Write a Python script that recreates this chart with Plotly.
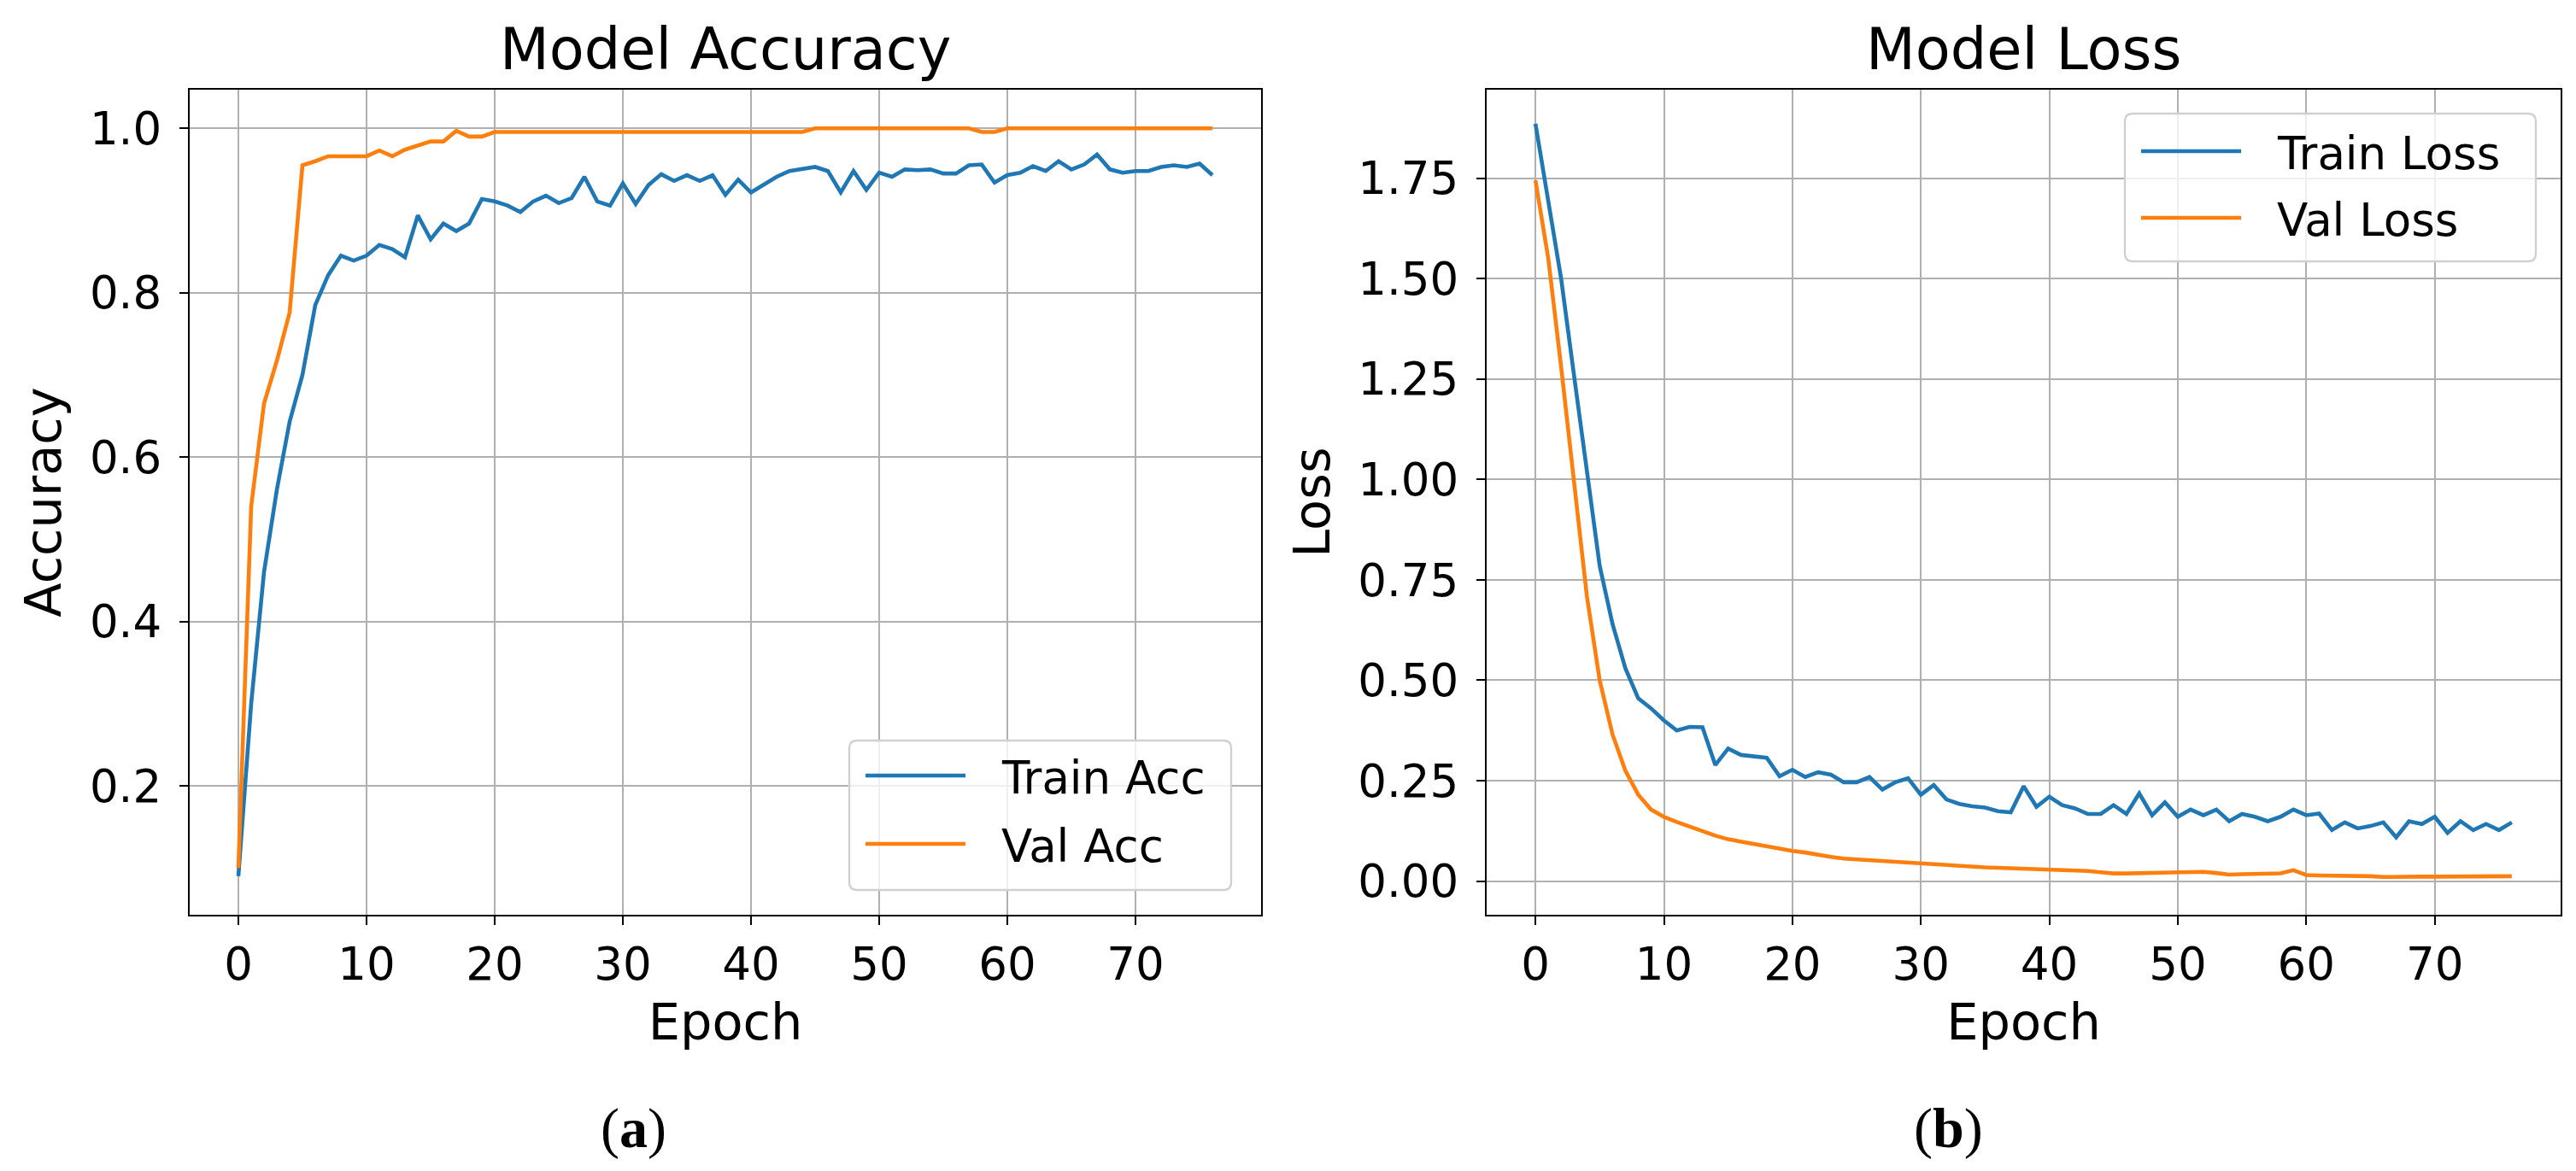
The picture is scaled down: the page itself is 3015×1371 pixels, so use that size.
import plotly.graph_objects as go

epochs = list(range(77))

train_acc = [0.09, 0.30, 0.46, 0.56, 0.643, 0.70, 0.785, 0.821, 0.845, 0.839,
             0.845, 0.858, 0.853, 0.843, 0.894, 0.865, 0.884, 0.875, 0.884, 0.914,
             0.911, 0.906, 0.898, 0.911, 0.918, 0.909, 0.915, 0.941, 0.911, 0.906,
             0.933, 0.908, 0.931, 0.944, 0.936, 0.943, 0.936, 0.943, 0.919, 0.9375,
             0.922, 0.932, 0.941, 0.948, 0.950, 0.953, 0.948, 0.922, 0.948, 0.925,
             0.946, 0.941, 0.950, 0.949, 0.950, 0.945, 0.945, 0.955, 0.956, 0.934,
             0.943, 0.946, 0.954, 0.948, 0.960, 0.950, 0.956, 0.968, 0.950, 0.946,
             0.948, 0.948, 0.953, 0.955, 0.953, 0.957, 0.943]

val_acc = [0.10, 0.54, 0.665, 0.717, 0.776, 0.955, 0.960, 0.966, 0.966, 0.966,
           0.966, 0.973, 0.966, 0.974, 0.979, 0.984, 0.984, 0.997, 0.990, 0.990,
           0.9955, 0.9955, 0.9955, 0.9955, 0.9955, 0.9955, 0.9955, 0.9955, 0.9955, 0.9955,
           0.9955, 0.9955, 0.9955, 0.9955, 0.9955, 0.9955, 0.9955, 0.9955, 0.9955, 0.9955,
           0.9955, 0.9955, 0.9955, 0.9955, 0.9955, 1.0, 1.0, 1.0, 1.0, 1.0,
           1.0, 1.0, 1.0, 1.0, 1.0, 1.0, 1.0, 1.0, 0.9955, 0.9955,
           1.0, 1.0, 1.0, 1.0, 1.0, 1.0, 1.0, 1.0, 1.0, 1.0,
           1.0, 1.0, 1.0, 1.0, 1.0, 1.0, 1.0]

train_loss = [1.886, 1.69, 1.50, 1.26, 1.02, 0.785, 0.64, 0.53, 0.455, 0.43,
              0.40, 0.375, 0.384, 0.383, 0.289, 0.33, 0.314, 0.31, 0.307, 0.261,
              0.277, 0.259, 0.271, 0.265, 0.246, 0.246, 0.259, 0.228, 0.246, 0.256,
              0.215, 0.239, 0.203, 0.192, 0.186, 0.183, 0.174, 0.171, 0.236, 0.185,
              0.21, 0.189, 0.181, 0.167, 0.167, 0.189, 0.167, 0.218, 0.164, 0.196,
              0.160, 0.178, 0.164, 0.178, 0.149, 0.167, 0.160, 0.149, 0.160, 0.178,
              0.164, 0.168, 0.127, 0.146, 0.131, 0.137, 0.146, 0.109, 0.149, 0.142,
              0.160, 0.120, 0.149, 0.127, 0.142, 0.127, 0.146]

val_loss = [1.745, 1.55, 1.28, 1.0, 0.71, 0.50, 0.365, 0.275, 0.215, 0.178,
            0.16, 0.147, 0.135, 0.125, 0.113, 0.104, 0.098, 0.092, 0.086, 0.080,
            0.075, 0.071, 0.065, 0.060, 0.056, 0.054, 0.051, 0.049, 0.047, 0.044,
            0.042, 0.040, 0.038, 0.036, 0.035, 0.034, 0.033, 0.032, 0.031, 0.031,
            0.030, 0.029, 0.027, 0.025, 0.022, 0.019, 0.019, 0.020, 0.021, 0.022,
            0.023, 0.023, 0.023, 0.020, 0.016, 0.017, 0.018, 0.018, 0.019, 0.027,
            0.015, 0.014, 0.014, 0.013, 0.013, 0.012, 0.010, 0.011, 0.012, 0.011,
            0.011, 0.011, 0.011, 0.010, 0.011, 0.012, 0.012]

acc_ticks = [0.2, 0.4, 0.6, 0.8, 1.0]
acc_ticktext = ["0.2", "0.4", "0.6", "0.8", "1.0"]
loss_ticks = [0.0, 0.25, 0.5, 0.75, 1.0, 1.25, 1.5, 1.75]
loss_ticktext = ["0.00", "0.25", "0.50", "0.75", "1.00", "1.25", "1.50", "1.75"]
epoch_ticks = [0, 10, 20, 30, 40, 50, 60, 70]

BLUE = "#1f77b4"
ORANGE = "#ff7f0e"
W, H = 3015, 1371
FONT = "DejaVu Sans"
LW = 4.6

fig = go.Figure()
fig.add_trace(go.Scatter(x=epochs, y=train_acc, mode="lines", name="Train Acc",
                         line=dict(color=BLUE, width=LW), xaxis="x", yaxis="y", showlegend=False))
fig.add_trace(go.Scatter(x=epochs, y=val_acc, mode="lines", name="Val Acc",
                         line=dict(color=ORANGE, width=LW), xaxis="x", yaxis="y", showlegend=False))
fig.add_trace(go.Scatter(x=epochs, y=train_loss, mode="lines", name="Train Loss",
                         line=dict(color=BLUE, width=LW), xaxis="x2", yaxis="y2", showlegend=False))
fig.add_trace(go.Scatter(x=epochs, y=val_loss, mode="lines", name="Val Loss",
                         line=dict(color=ORANGE, width=LW), xaxis="x2", yaxis="y2", showlegend=False))

def px(x):
    return x / W

def py(y):
    return 1 - y / H

axis_common = dict(
    showline=True, mirror=True, linecolor="black", linewidth=2.4,
    ticks="outside", ticklen=10, tickwidth=2.4, tickcolor="black",
    showgrid=True, gridcolor="#b0b0b0", gridwidth=2.4, zeroline=False,
    tickfont=dict(family=FONT, size=53, color="black"),
)

ydom = [py(1063), py(97)]
fig.update_layout(
    width=W, height=H, margin=dict(l=0, r=0, t=0, b=0),
    paper_bgcolor="white", plot_bgcolor="white",
    font=dict(family=FONT, color="black"),
    xaxis=dict(domain=[px(214), px(1468)], range=[-3.8, 79.8], tickvals=epoch_ticks,
               title=dict(text="Epoch", font=dict(family=FONT, size=59, color="black"), standoff=18),
               anchor="y", **axis_common),
    yaxis=dict(domain=ydom, range=[0.043, 1.047], tickvals=acc_ticks, ticktext=acc_ticktext,
               title=dict(text="Accuracy", font=dict(family=FONT, size=59, color="black"), standoff=14),
               anchor="x", ticklabelstandoff=10, **axis_common),
    xaxis2=dict(domain=[px(1732), px(2989)], range=[-3.8, 79.8], tickvals=epoch_ticks,
                title=dict(text="Epoch", font=dict(family=FONT, size=59, color="black"), standoff=18),
                anchor="y2", **axis_common),
    yaxis2=dict(domain=ydom, range=[-0.084, 1.971], tickvals=loss_ticks, ticktext=loss_ticktext,
                title=dict(text="Loss", font=dict(family=FONT, size=59, color="black"), standoff=14),
                anchor="x2", ticklabelstandoff=10, **axis_common),
)

annotations = [
    dict(text="Model Accuracy", x=px(841), y=py(50), xref="paper", yref="paper",
         xanchor="center", yanchor="middle", showarrow=False,
         font=dict(family=FONT, size=67, color="black")),
    dict(text="Model Loss", x=px(2360), y=py(50), xref="paper", yref="paper",
         xanchor="center", yanchor="middle", showarrow=False,
         font=dict(family=FONT, size=67, color="black")),
    dict(text="(<b>a</b>)", x=px(733), y=py(1313), xref="paper", yref="paper",
         xanchor="center", yanchor="middle", showarrow=False,
         font=dict(family="Liberation Serif", size=66, color="black")),
    dict(text="(<b>b</b>)", x=px(2272), y=py(1313), xref="paper", yref="paper",
         xanchor="center", yanchor="middle", showarrow=False,
         font=dict(family="Liberation Serif", size=66, color="black")),
]

shapes = []

def rounded_box(x0, y0, x1, y1, r=9):
    def P(x, y):
        return f"{px(x):.6f},{py(y):.6f}"
    path = (f"M{P(x0 + r, y0)} L{P(x1 - r, y0)} Q{P(x1, y0)} {P(x1, y0 + r)} "
            f"L{P(x1, y1 - r)} Q{P(x1, y1)} {P(x1 - r, y1)} "
            f"L{P(x0 + r, y1)} Q{P(x0, y1)} {P(x0, y1 - r)} "
            f"L{P(x0, y0 + r)} Q{P(x0, y0)} {P(x0 + r, y0)} Z")
    return dict(type="path", path=path, xref="paper", yref="paper",
                fillcolor="rgba(255,255,255,0.8)", line=dict(color="#d0d0d0", width=2.4),
                layer="above")

def legend(box, items):
    x0, y0, x1, y1 = box
    shapes.append(rounded_box(x0, y0, x1, y1))
    for (label, color, yy) in items:
        shapes.append(dict(type="line", xref="paper", yref="paper",
                           x0=px(x0 + 19), x1=px(x0 + 136), y0=py(yy), y1=py(yy),
                           line=dict(color=color, width=LW), layer="above"))
        annotations.append(dict(text=label, x=px(x0 + 176), y=py(yy + 2), xref="paper", yref="paper",
                                xanchor="left", yanchor="middle", showarrow=False,
                                font=dict(family=FONT, size=53, color="black")))

legend((986, 859, 1433, 1034), [("Train Acc", BLUE, 900), ("Val Acc", ORANGE, 980)])
legend((2479, 125, 2960, 298), [("Train Loss", BLUE, 169), ("Val Loss", ORANGE, 247)])

fig.update_layout(annotations=annotations, shapes=shapes)
fig.write_html("out.html")
